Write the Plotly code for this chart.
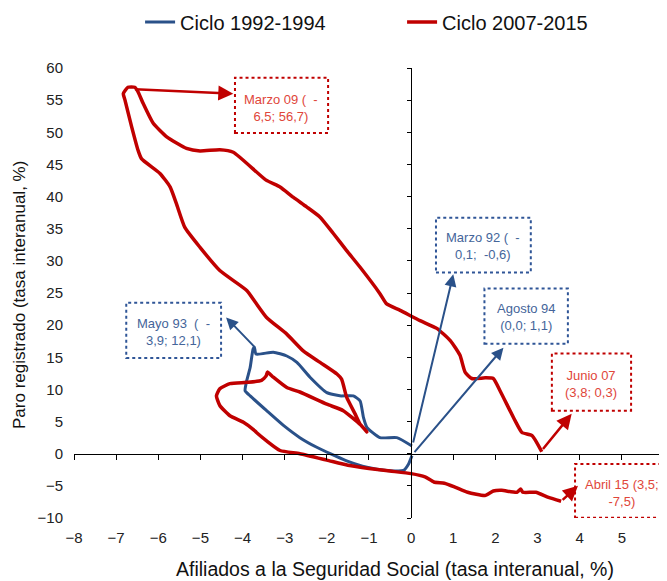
import plotly.graph_objects as go

# Ciclo 1992-1994: (afiliados %, paro registrado %), from Marzo 92 to Agosto 94
ciclo_1992_1994 = [
    (0.02, -0.3), (-0.06, -1.6), (-0.18, -2.6), (-0.58, -2.6), (-1.05, -2.1),
    (-1.53, -1.1), (-1.92, 0.0), (-2.24, 1.0), (-2.64, 2.5), (-3.03, 4.4),
    (-3.43, 6.7), (-3.82, 9.0), (-3.94, 9.8), (-3.90, 11.4), (-3.82, 13.4),
    (-3.75, 16.3), (-3.72, 16.6), (-3.68, 15.5), (-3.27, 15.8), (-2.95, 15.2),
    (-2.71, 14.2), (-2.40, 11.9), (-2.00, 9.5), (-1.69, 9.0), (-1.37, 9.0),
    (-1.21, 8.2), (-1.13, 5.6), (-1.05, 4.1), (-0.74, 2.5), (-0.34, 2.5),
    (0.02, 1.2),
]

# Ciclo 2007-2015: from Junio 07 to Abril 15
ciclo_2007_2015 = [
    (3.10, 0.3), (2.87, 2.8), (2.63, 3.3), (2.47, 5.1), (2.11, 9.8),
    (1.95, 11.7), (1.76, 11.8), (1.44, 11.7), (1.28, 12.7), (1.16, 15.3),
    (0.93, 17.6), (0.61, 19.5), (0.21, 20.7), (-0.26, 22.3), (-0.58, 23.3),
    (-0.74, 24.9), (-1.21, 29.0), (-1.53, 31.6), (-1.85, 34.3), (-2.16, 36.8),
    (-2.48, 38.4), (-2.80, 39.9), (-3.11, 41.5), (-3.45, 42.6), (-4.22, 46.9),
    (-4.54, 47.3), (-5.01, 47.1), (-5.33, 47.5), (-5.80, 49.3), (-6.12, 51.4),
    (-6.36, 54.5), (-6.48, 56.3), (-6.56, 57.0), (-6.72, 57.0), (-6.83, 56.0),
    (-6.79, 55.0), (-6.63, 50.8), (-6.48, 47.2), (-6.40, 45.9), (-5.96, 43.6),
    (-5.72, 41.5), (-5.57, 38.9), (-5.37, 35.2), (-5.01, 32.1), (-4.54, 28.5),
    (-3.90, 25.4), (-3.70, 23.6), (-3.43, 21.2), (-2.95, 18.6), (-2.56, 16.0),
    (-2.16, 14.2), (-1.76, 12.4), (-1.65, 11.6), (-1.53, 8.8), (-1.33, 6.2),
    (-1.21, 4.6), (-1.05, 3.4), (-1.20, 4.5), (-1.61, 6.7), (-2.00, 7.7),
    (-2.64, 9.6), (-2.95, 10.3), (-3.27, 11.9), (-3.41, 12.7), (-3.44, 12.1),
    (-3.55, 11.4), (-3.90, 11.1), (-4.30, 10.9), (-4.54, 10.1), (-4.62, 9.0),
    (-4.54, 7.5), (-4.30, 5.9), (-3.98, 4.9), (-3.75, 3.8), (-3.67, 3.3),
    (-3.43, 2.0), (-3.11, 0.5), (-2.64, 0.0), (-2.00, -1.0), (-1.50, -1.8),
    (-1.00, -2.3), (-0.50, -2.7), (0.00, -3.1), (0.33, -3.6), (0.54, -4.4),
    (0.79, -4.6), (1.04, -5.2), (1.34, -6.0), (1.75, -6.5), (1.95, -5.8),
    (2.15, -5.7), (2.51, -6.0), (2.60, -5.5), (2.65, -6.0), (2.96, -6.0),
    (3.26, -6.8), (3.56, -7.4),
]

x_ticks = list(range(-8, 7))
y_ticks = list(range(-10, 61, 5))

BLUE = '#2A5189'
RED = '#C00000'
BLUE_TXT = '#44659A'
RED_TXT = '#E0463A'
FONT = 'Liberation Sans, Arial, sans-serif'

# label boxes: text, centre, box corners, arrow head, arrow tail, colour
labels = [
    ('Marzo 09 ( &nbsp;-<br>6,5; 56,7)', (-3.08, 53.8), (-4.18, 49.9, -1.97, 58.5), (-4.22, 56.0), (-6.59, 56.7), 'red'),
    ('Marzo 92 ( &nbsp;-<br>0,1; &nbsp;-0,6)', (1.71, 32.3), (0.59, 28.2, 2.84, 36.7), (1.00, 27.9), (0.04, 1.5), 'blue'),
    ('Agosto 94<br>(0,0; 1,1)', (2.73, 21.2), (1.74, 17.1, 3.72, 25.7), (2.19, 16.5), (0.05, 0.0), 'blue'),
    ('Mayo 93 &nbsp;( &nbsp;-<br>3,9; 12,1)', (-5.65, 19.0), (-6.76, 14.9, -4.51, 23.5), (-4.39, 21.2), (-3.70, 16.5), 'blue'),
    ('Junio 07<br>(3,8; 0,3)', (4.27, 10.9), (3.34, 6.7, 5.22, 15.6), (3.81, 6.2), (3.10, 0.5), 'red'),
    ('Abril 15 (3,5;<br>-7,5)', (5.01, -6.1), (3.89, -9.95, 6.2, -1.6), (3.96, -5.0), (3.56, -7.4), 'red'),
]

fig = go.Figure()

fig.add_trace(go.Scatter(
    x=[p[0] for p in ciclo_1992_1994],
    y=[p[1] for p in ciclo_1992_1994],
    mode='lines', name='Ciclo 1992-1994',
    line=dict(color=BLUE, width=3, shape='spline', smoothing=0.5),
))
fig.add_trace(go.Scatter(
    x=[p[0] for p in ciclo_2007_2015],
    y=[p[1] for p in ciclo_2007_2015],
    mode='lines', name='Ciclo 2007-2015',
    line=dict(color=RED, width=3.5, shape='spline', smoothing=0.5),
))
# empty trace so the crossing axes get drawn
fig.add_trace(go.Scatter(x=[None], y=[None], xaxis='x2', yaxis='y2',
                         showlegend=False, hoverinfo='skip'))

for text, (tx, ty), (x0, y0, x1, y1), (hx, hy), (sx, sy), col in labels:
    line_col = RED if col == 'red' else '#2F5597'
    fig.add_shape(type='rect', xref='x', yref='y', x0=x0, y0=y0, x1=x1, y1=y1,
                  line=dict(color=line_col, width=2, dash='dot'), layer='above')
    fig.add_annotation(x=tx, y=ty, xref='x', yref='y', text=text, showarrow=False,
                       align='center', font=dict(family=FONT, size=13,
                                                 color=RED_TXT if col == 'red' else BLUE_TXT))
    fig.add_annotation(x=hx, y=hy, ax=sx, ay=sy, xref='x', yref='y', axref='x', ayref='y',
                       text='', showarrow=True, arrowhead=2, arrowsize=1.2,
                       arrowwidth=2.5 if col == 'red' else 2,
                       arrowcolor=RED if col == 'red' else BLUE, standoff=0)

fig.add_annotation(x=0.544, y=-0.113, xref='paper', yref='paper', showarrow=False,
                   xanchor='center', yanchor='middle',
                   text='Afiliados a la Seguridad Social (tasa interanual, %)',
                   font=dict(family=FONT, size=19.5, color='#111'))
fig.add_annotation(x=-0.0915, y=0.4956, xref='paper', yref='paper', showarrow=False,
                   xanchor='center', yanchor='middle',
                   textangle=-90, text='Paro registrado (tasa interanual, %)',
                   font=dict(family=FONT, size=17, color='#111'))

# the page body keeps an 8px margin, so the figure starts 8px in
fig.update_layout(
    width=667, height=573,
    margin=dict(l=66, r=11, t=60, b=63, autoexpand=False),
    plot_bgcolor='white', paper_bgcolor='white',
    font=dict(family=FONT, color='#222'),
    showlegend=True,
    legend=dict(orientation='h', x=0.112, y=1.102, xanchor='left', yanchor='middle',
                font=dict(family=FONT, size=20, color='#111'),
                entrywidth=217, entrywidthmode='pixels'),
    xaxis=dict(range=[-8, 6.001], tickvals=x_ticks, showline=False, showgrid=False,
               zeroline=False, ticks='', ticklabelstandoff=9, automargin=False,
               ticklabeloverflow='allow', tickfont=dict(size=15, color='#222')),
    yaxis=dict(range=[-10, 60], tickvals=y_ticks, showline=False, showgrid=False,
               zeroline=False, ticks='', ticklabelstandoff=10, automargin=False,
               tickfont=dict(size=15, color='#222')),
    xaxis2=dict(overlaying='x', anchor='free', position=1 / 7, range=[-8, 6.001],
                tickvals=x_ticks, showline=True, linecolor='black', linewidth=1,
                ticks='outside', ticklen=5, tickcolor='black', showticklabels=False,
                showgrid=False, zeroline=False, automargin=False),
    yaxis2=dict(overlaying='y', anchor='free', position=8 / 14, side='left',
                range=[-10, 60], tickvals=y_ticks, showline=True, linecolor='black',
                linewidth=1, ticks='outside', ticklen=4, tickcolor='black',
                showticklabels=False, showgrid=False, zeroline=False, automargin=False),
)

fig.write_html('out.html')
